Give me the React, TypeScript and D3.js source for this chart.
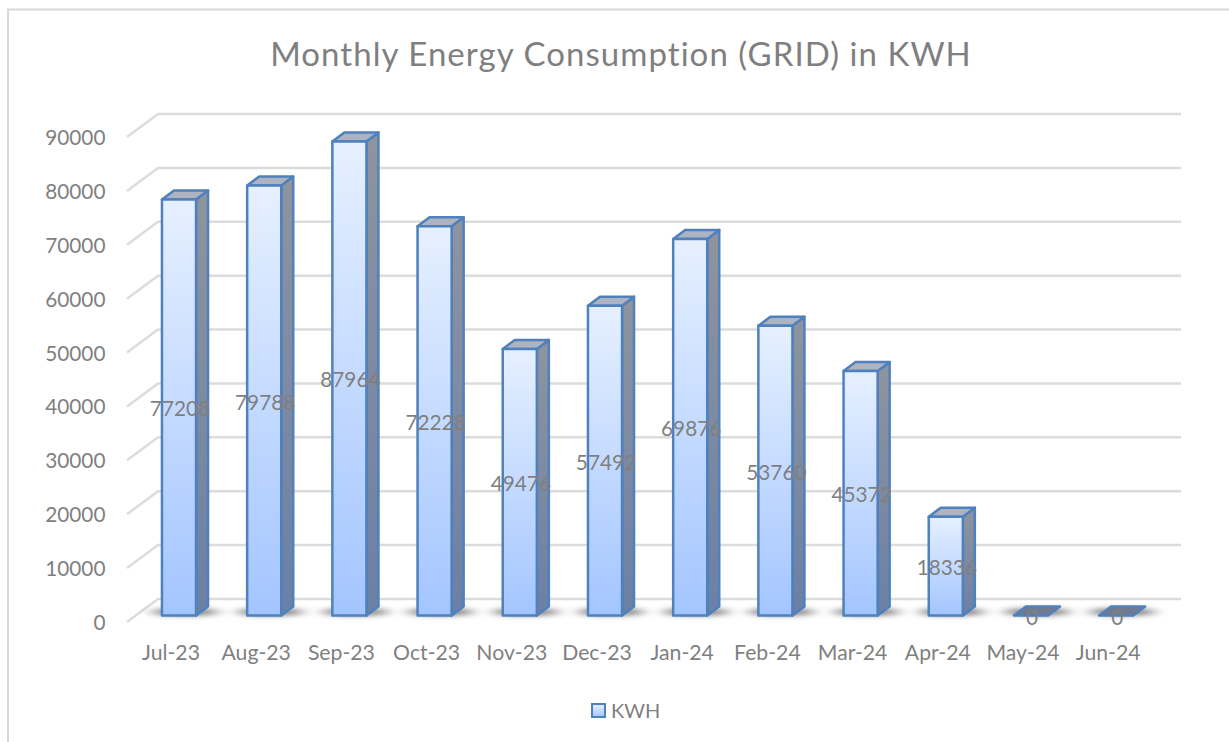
import React from 'react';
import * as d3 from 'd3';

const months = ['Jul-23', 'Aug-23', 'Sep-23', 'Oct-23', 'Nov-23', 'Dec-23', 'Jan-24', 'Feb-24', 'Mar-24', 'Apr-24', 'May-24', 'Jun-24'];
const kwh = [77208, 79788, 87964, 72228, 49476, 57492, 69876, 53760, 45372, 18336, 0, 0];
const yTicks = [0, 10000, 20000, 30000, 40000, 50000, 60000, 70000, 80000, 90000];

const font = 'Lato, "Open Sans", sans-serif';
const grey = '#7f7f7f';
const barBlue = '#4f81bd';

// the floor goes back this far, the bars are less deep
const floorDx = 31;
const floorDy = -23;
const barDx = 12;
const barDy = -9;

const x = d3.scaleBand<string>().domain(months).range([136.4, 1158.8]).paddingInner(0.6).paddingOuter(0.3);
const y = d3.scaleLinear().domain([0, 90000]).range([615.5, 130.5]);

const App = () => {
  const line = d3.line();
  return (
    <svg width={1229} height={742} style={{ position: 'absolute', left: 0, top: 0, background: '#fff' }}>
      <defs>
        <linearGradient id="front" x1="0" y1="0" x2="0" y2="1">
          <stop offset="0" stopColor="#e6f0ff" />
          <stop offset="1" stopColor="#a3c5ff" />
        </linearGradient>
        <linearGradient id="side" x1="0" y1="0" x2="0" y2="1">
          <stop offset="0" stopColor="#8f949e" />
          <stop offset="1" stopColor="#6b80a6" />
        </linearGradient>
        <filter id="blur" x="-50%" y="-300%" width="200%" height="700%">
          <feGaussianBlur stdDeviation="7 2.5" />
        </filter>
      </defs>

      <path d="M8 742V9.5H1229" fill="none" stroke="#d9d9d9" strokeWidth={2} />

      <text x={621} y={66} textAnchor="middle" fontFamily={font} fontSize={33} fill={grey} letterSpacing={1.05}>
        Monthly Energy Consumption (GRID) in KWH
      </text>

      {yTicks.map(t => {
        const py = y(t) + 6.5;
        return (
          <g key={t}>
            <path
              d={line([[127, py], [127 + floorDx, py + floorDy], [1181, py + floorDy]]) as string}
              fill="none"
              stroke="#dcdcdc"
              strokeWidth={2.5}
            />
            <text x={105.5} y={py + 8} textAnchor="end" fontFamily={font} fontSize={20.8} fill={grey}>
              {t}
            </text>
          </g>
        );
      })}

      {months.map(m => (
        <ellipse
          key={m}
          cx={(x(m) as number) + x.bandwidth() / 2 + 6}
          cy={612}
          rx={34}
          ry={4}
          fill="#555"
          opacity={0.7}
          filter="url(#blur)"
        />
      ))}

      {months.map((m, i) => {
        const x0 = x(m) as number;
        const x1 = x0 + x.bandwidth();
        const top = y(kwh[i]);
        const base = y(0);
        const front = [[x0, top], [x1, top], [x1, base], [x0, base]] as [number, number][];
        const side = [[x1, top], [x1 + barDx, top + barDy], [x1 + barDx, base + barDy], [x1, base]] as [number, number][];
        const lid = [[x0, top], [x0 + barDx, top + barDy], [x1 + barDx, top + barDy], [x1, top]] as [number, number][];
        const common = { stroke: barBlue, strokeWidth: 2.5, strokeLinejoin: 'round' as const };
        if (kwh[i] === 0) {
          return <path key={m} d={`${line(lid)}Z`} fill="#6f7b90" {...common} />;
        }
        return (
          <g key={m}>
            <path d={`${line(side)}Z`} fill="url(#side)" {...common} />
            <path d={`${line(lid)}Z`} fill="#aeb3c1" {...common} />
            <path d={`${line(front)}Z`} fill="url(#front)" {...common} />
          </g>
        );
      })}

      {months.map((m, i) => {
        const cx = (x(m) as number) + x.bandwidth() / 2;
        return (
          <g key={m}>
            <text x={cx + 1} y={(y(kwh[i]) + y(0)) / 2 + 9} textAnchor="middle" fontFamily={font} fontSize={20.8} fill={grey}>
              {kwh[i]}
            </text>
            <text x={cx - 8} y={660} textAnchor="middle" fontFamily={font} fontSize={21.2} fill={grey}>
              {m}
            </text>
          </g>
        );
      })}

      <rect x={592} y={704} width={13} height={13} fill="url(#front)" stroke={barBlue} strokeWidth={2} />
      <text x={611} y={718} fontFamily={font} fontSize={20} fill={grey}>KWH</text>
    </svg>
  );
};

export default App;
